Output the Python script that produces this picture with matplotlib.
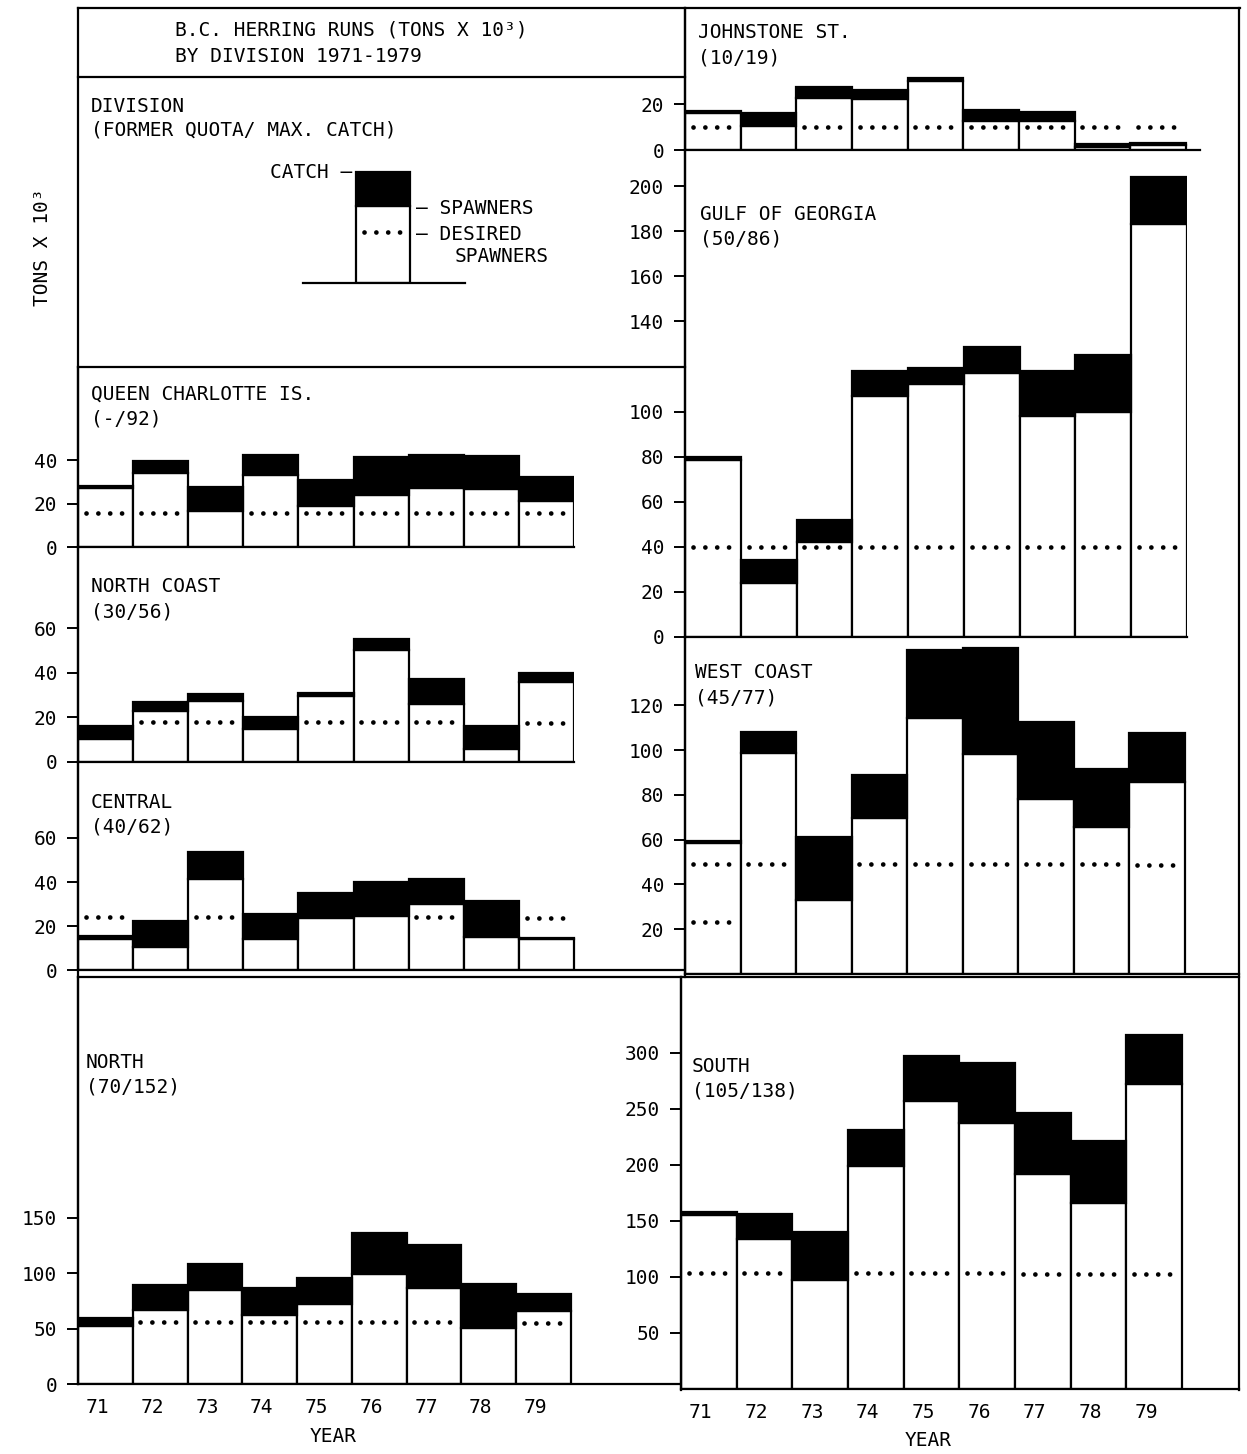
import numpy as np
import matplotlib
matplotlib.use('Agg')
import matplotlib.pyplot as plt
from matplotlib.transforms import ScaledTranslation

nan = np.nan

YEARS = ['71', '72', '73', '74', '75', '76', '77', '78', '79']

# run = spawners + catch (tons x 10^3)
JOHNSTONE_TOTAL = [17, 16, 27.5, 26, 31.5, 17.5, 16.5, 2.5, 3]
JOHNSTONE_SPAWN = [16, 10.5, 22.5, 22, 30, 12.5, 12.5, 1.2, 2.2]
JOHNSTONE_DESIRED = [10, nan, 10, 10, 10, 10, 10, 10, 10]

GULF_TOTAL = [80, 34, 52, 118, 119.5, 128.5, 118, 125, 204]
GULF_SPAWN = [78.5, 24, 42, 107, 112, 117, 98, 100, 183]
GULF_DESIRED = [40, 40, 40, 40, 40, 40, 40, 40, 40]

WEST_TOTAL = [59.5, 108, 61, 89, 144.5, 145.5, 112.5, 91.5, 107.5]
WEST_SPAWN = [58.5, 98.5, 33, 69.5, 114.5, 98, 78, 65.5, 85.5]
WEST_DESIRED = [49, 49, nan, 49, 49, 49, 49, 49, 48.5]
WEST_DESIRED_ALT = [23, nan, nan, nan, nan, nan, nan, nan, nan]

SOUTH_TOTAL = [158, 156.5, 140, 231, 297, 291.5, 246.5, 221.5, 316.5]
SOUTH_SPAWN = [155, 133.5, 97.5, 199.5, 257, 237.5, 192, 166, 272]
SOUTH_DESIRED = [104, 104, nan, 103.5, 103.5, 103.5, 103, 103, 103]

QCI_TOTAL = [28, 39.5, 27.5, 42.5, 31, 41.5, 42.5, 42, 32]
QCI_SPAWN = [27, 34, 16.5, 33, 19, 24, 27, 26.5, 21]
QCI_DESIRED = [15.5, 15.5, nan, 15.5, 15.5, 15.5, 15.5, 15.5, 15.5]

NC_TOTAL = [16, 27, 30.5, 20, 31, 55, 37, 16, 40]
NC_SPAWN = [10.5, 23, 27.5, 15, 29.5, 50, 26, 6, 36]
NC_DESIRED = [nan, 18, 18, nan, 18, 18, 18, nan, 17.5]

CENTRAL_TOTAL = [15.5, 22.5, 53.5, 25.5, 35, 40, 41.5, 31.5, 14.5]
CENTRAL_SPAWN = [14, 10.5, 41.5, 14, 23.5, 24.5, 30, 15, 14]
CENTRAL_DESIRED = [24, nan, 24, nan, nan, nan, 24, nan, 23.5]

NORTH_TOTAL = [60, 89, 108, 87, 95.5, 136, 126, 90, 81.5]
NORTH_SPAWN = [52, 66.5, 84.5, 62, 72, 99, 87, 51, 66]
NORTH_DESIRED = [nan, 56, 56, 56, 56, 56, 56, nan, 55.5]

# sample bar in the key box
LEGEND_TOTAL = [90]
LEGEND_SPAWN = [62.5]
LEGEND_DESIRED = [41.5]

W, H = 1247, 1454
plt.rcParams['font.family'] = ['DejaVu Sans Mono', 'DejaVu Sans']
plt.rcParams['font.size'] = 14

fig = plt.figure(figsize=(W / 100, H / 100), dpi=100)


def px_axes(l, r, bottom, top):
    return fig.add_axes([l / W, 1 - bottom / H, (r - l) / W, (bottom - top) / H])


def ftext(x, y, s, **kw):
    fig.text(x / W, 1 - y / H, s, va='center', **kw)


def draw_desired(ax, x, values):
    for xi, d in zip(x, values):
        if not np.isnan(d):
            ax.plot([xi - 0.36, xi + 0.33], [d, d], color='black', lw=3.4,
                    linestyle=(0, (0.01, 2.5)), dash_capstyle='round', zorder=3)


def draw_bars(ax, x, total, spawn):
    total = np.array(total, dtype=float)
    spawn = np.array(spawn, dtype=float)
    ax.bar(x, spawn, width=1, color='white', edgecolor='black', lw=1.6, zorder=2)
    ax.bar(x, total - spawn, bottom=spawn, width=1, color='black',
           edgecolor='black', lw=1.6, zorder=2)


def panel(bar_l, bar_r, ax_r, y0, ytop, ppu, total, spawn, desired, yticks):
    ax = px_axes(bar_l, ax_r, y0, ytop)
    ax.patch.set_visible(False)
    unit = (bar_r - bar_l) / 9
    ax.set_xlim(0.5, 0.5 + (ax_r - bar_l) / unit)
    ax.set_ylim(0, (y0 - ytop) / ppu)
    x = np.arange(1, 10)
    draw_bars(ax, x, total, spawn)
    draw_desired(ax, x, desired)
    ax.spines[['top', 'right']].set_visible(False)
    ax.spines[['left', 'bottom']].set_linewidth(1.6)
    ax.set_yticks(yticks)
    ax.set_yticklabels([str(t) for t in yticks])
    ax.tick_params(axis='y', direction='out', length=8, width=1.4, pad=7, labelsize=14)
    ax.set_xticks([])
    return ax


# left column
panel(78, 574, 574, 547, 367, 2.175, QCI_TOTAL, QCI_SPAWN, QCI_DESIRED, [0, 20, 40])
panel(78, 574, 574, 762, 547, 2.233, NC_TOTAL, NC_SPAWN, NC_DESIRED, [0, 20, 40, 60])
panel(78, 574, 685, 970, 762, 2.2, CENTRAL_TOTAL, CENTRAL_SPAWN, CENTRAL_DESIRED, [0, 20, 40, 60])
ax_n = panel(78, 571, 681, 1384, 977, 1.107, NORTH_TOTAL, NORTH_SPAWN, NORTH_DESIRED,
             [0, 50, 100, 150])

# right column
panel(685, 1186, 1200, 150, 8, 2.3, JOHNSTONE_TOTAL, JOHNSTONE_SPAWN, JOHNSTONE_DESIRED, [0, 20])
panel(685, 1187, 1187, 637, 150, 2.255, GULF_TOTAL, GULF_SPAWN, GULF_DESIRED,
      [0, 20, 40, 60, 80, 100, 140, 160, 180, 200])
ax_w = panel(685, 1185, 1239, 974, 637, 2.24, WEST_TOTAL, WEST_SPAWN, WEST_DESIRED,
             [20, 40, 60, 80, 100, 120])
draw_desired(ax_w, np.arange(1, 10), WEST_DESIRED_ALT)
ax_s = panel(681, 1182, 1239, 1389, 977, 1.12, SOUTH_TOTAL, SOUTH_SPAWN, SOUTH_DESIRED,
             [50, 100, 150, 200, 250, 300])

shift = ScaledTranslation(-8 / 100, 0, fig.dpi_scale_trans)
for ax in (ax_n, ax_s):
    ax.set_xticks(np.arange(1, 10))
    ax.set_xticklabels(YEARS)
    ax.tick_params(axis='x', length=0, pad=10, labelsize=14)
    for lbl in ax.get_xticklabels():
        lbl.set_transform(lbl.get_transform() + shift)

# key sample bar
ax_leg = px_axes(303, 465, 283, 160)
ax_leg.patch.set_visible(False)
left = 0.5 - (356 - 303) / 54
ax_leg.set_xlim(left, left + (465 - 303) / 54)
ax_leg.set_ylim(0, 100)
draw_bars(ax_leg, [1], LEGEND_TOTAL, LEGEND_SPAWN)
draw_desired(ax_leg, [1], LEGEND_DESIRED)
ax_leg.spines[['top', 'right', 'left']].set_visible(False)
ax_leg.spines['bottom'].set_linewidth(1.6)
ax_leg.set_xticks([])
ax_leg.set_yticks([])

# frame
ov = fig.add_axes([0, 0, 1, 1])
ov.set_xlim(0, W)
ov.set_ylim(H, 0)
ov.axis('off')
ov.patch.set_visible(False)
frame = [((78, 1240), (8, 8)), ((78, 78), (8, 1384)), ((1239, 1239), (8, 1390)),
         ((685, 685), (8, 977)), ((681, 681), (977, 1390)), ((78, 685), (77, 77)),
         ((78, 685), (367, 367)), ((78, 1239), (977, 977))]
for xs, ys in frame:
    ov.plot(xs, ys, color='black', lw=1.6)

# texts
ftext(175, 30, 'B.C. HERRING RUNS (TONS X 10³)')
ftext(175, 57, 'BY DIVISION 1971-1979')
ftext(91, 106, 'DIVISION')
ftext(91, 130, '(FORMER QUOTA/ MAX. CATCH)')
ftext(352, 172, 'CATCH –', ha='right')
ftext(416, 209, '– SPAWNERS')
ftext(416, 234, '– DESIRED')
ftext(455, 257, 'SPAWNERS')
fig.text(42 / W, 1 - 247 / H, 'TONS X 10³', rotation=90, ha='center', va='center')

names = [(698, 33, 'JOHNSTONE ST.', '(10/19)'),
         (700, 214, 'GULF OF GEORGIA', '(50/86)'),
         (91, 394, 'QUEEN CHARLOTTE IS.', '(-/92)'),
         (91, 587, 'NORTH COAST', '(30/56)'),
         (91, 802, 'CENTRAL', '(40/62)'),
         (695, 673, 'WEST COAST', '(45/77)'),
         (86, 1062, 'NORTH', '(70/152)'),
         (692, 1066, 'SOUTH', '(105/138)')]
for x, y, a, b in names:
    ftext(x, y, a)
    ftext(x, y + 25, b)

ftext(333, 1436, 'YEAR', ha='center')
ftext(928, 1441, 'YEAR', ha='center')

fig.savefig('out.png', dpi=100, facecolor='white')
